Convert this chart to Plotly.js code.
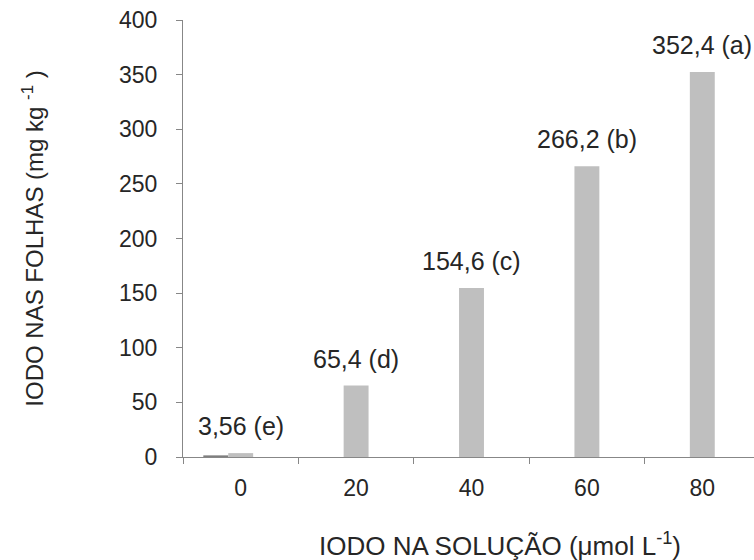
<!DOCTYPE html>
<html>
<head>
<meta charset="utf-8">
<script src="https://cdn.plot.ly/plotly-3.0.1.min.js"></script>
<style>
html,body{margin:0;padding:0;overflow:hidden;background:#fff;}
#chart{width:762px;height:560px;}
</style>
</head>
<body>
<div id="chart"></div>
<script>
// Data
var categories = ['0', '20', '40', '60', '80'];
var iodoFolhas = [3.56, 65.4, 154.6, 266.2, 352.4];
var serieEscura = [1.5, 0, 0, 0, 0];
var rotulos = ['3,56 (e)', '65,4 (d)', '154,6 (c)', '266,2 (b)', '352,4 (a)'];
var yTicks = [0, 50, 100, 150, 200, 250, 300, 350, 400];

var FONT = 'Liberation Sans, Arial, Helvetica, sans-serif';
var TXT = '#262626';
var AX = '#878787';

var traces = [
  {
    type: 'bar', x: categories, y: serieEscura,
    width: 0.216, offset: -0.324,
    marker: {color: '#7f7f7f'}, hoverinfo: 'skip', showlegend: false
  },
  {
    type: 'bar', x: categories, y: iodoFolhas,
    width: 0.216, offset: -0.108,
    marker: {color: '#bfbfbf'}, showlegend: false
  }
];

// data labels: positioned by category index (category axis) and value
var annotations = categories.map(function (c, i) {
  return {
    x: i, y: iodoFolhas[i], xref: 'x', yref: 'y',
    text: rotulos[i], showarrow: false,
    xanchor: 'center', yanchor: 'bottom', yshift: 11,
    font: {family: FONT, size: 25, color: TXT}
  };
});
annotations.push({
  xref: 'paper', yref: 'paper', x: 0.549, y: 0, yshift: -69,
  xanchor: 'center', yanchor: 'top',
  text: 'IODO NA SOLUÇÃO (μmol L<sup>-1</sup>)', showarrow: false,
  font: {family: FONT, size: 26, color: TXT}
});

var layout = {
  width: 762, height: 560,
  margin: {l: 183, r: 2, t: 20, b: 103},
  paper_bgcolor: '#ffffff', plot_bgcolor: '#ffffff',
  font: {family: FONT, size: 23, color: TXT},
  barmode: 'overlay',
  showlegend: false,
  xaxis: {
    type: 'category', categoryorder: 'array', categoryarray: categories,
    range: [-0.5, 4.5],
    showline: true, linecolor: AX, linewidth: 1,
    ticks: 'outside', ticklen: 6, tickcolor: AX, tickson: 'boundaries',
    showgrid: false, zeroline: false,
    ticklabelstandoff: 10,
    tickfont: {family: FONT, size: 23, color: TXT}
  },
  yaxis: {
    range: [0, 400], tickmode: 'array', tickvals: yTicks,
    showline: true, linecolor: AX, linewidth: 1,
    ticks: 'outside', ticklen: 6, tickcolor: AX,
    showgrid: false, zeroline: false,
    ticklabelstandoff: 14,
    tickfont: {family: FONT, size: 23, color: TXT},
    title: {text: 'IODO NAS FOLHAS (mg kg <sup>-1</sup> )', standoff: 68,
            font: {family: FONT, size: 24, color: TXT}}
  },
  annotations: annotations
};

Plotly.newPlot('chart', traces, layout, {staticPlot: true, displayModeBar: false});
</script>
</body>
</html>
